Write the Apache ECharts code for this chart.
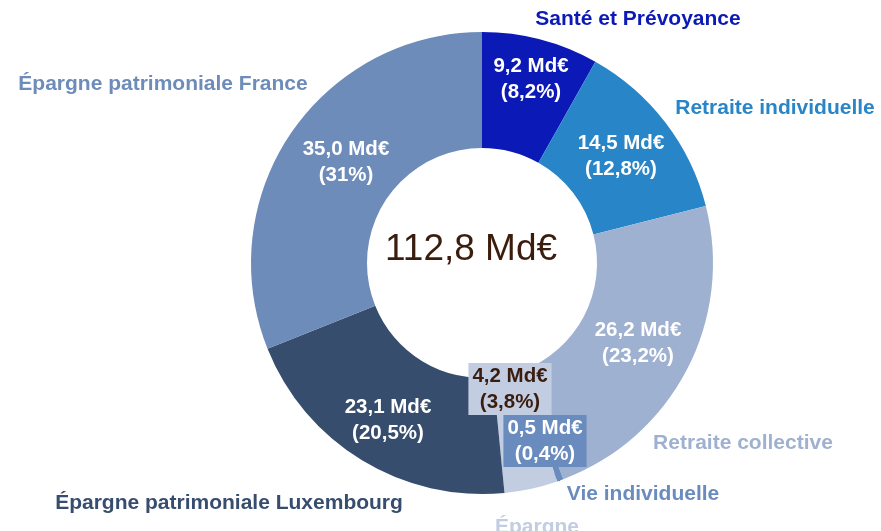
<!DOCTYPE html>
<html>
<head>
<meta charset="utf-8">
<script src="https://cdn.jsdelivr.net/npm/echarts@6/dist/echarts.min.js"></script>
<style>
  html, body { margin: 0; padding: 0; background: #fff; }
  #chart { width: 881px; height: 531px; }
</style>
</head>
<body>
<div id="chart"></div>
<script>
// données
const categories = ['Santé et Prévoyance', 'Retraite individuelle', 'Retraite collective',
  'Vie individuelle', 'Épargne', 'Épargne patrimoniale Luxembourg', 'Épargne patrimoniale France'];
const values = [9.2, 14.5, 26.2, 0.5, 4.2, 23.1, 35.0];
const shares = ['8,2%', '12,8%', '23,2%', '0,4%', '3,8%', '20,5%', '31%'];
const totalLabel = '112,8 Md€';

// style
const colors = ['#0b19b6', '#2886c8', '#9fb1d0', '#6a8bbd', '#c2cde2', '#374d6e', '#6d8cba'];
const valuePos = [[531, 79], [621, 156], [638, 343], [545, 441], [510, 389], [388, 420], [346, 162]];
const namePos = [[638, 19], [775, 108], [743, 443], [643, 494], [537, 527], [229, 503], [163, 84]];
const font = "'Liberation Sans', Arial, sans-serif";

const fmt = v => v.toFixed(1).replace('.', ',');

const chart = echarts.init(document.getElementById('chart'));

const valueData = categories.map((name, i) => {
  const item = { name: name, value: values[i], itemStyle: { color: colors[i] } };
  if (i === 4) {
    item.label = { backgroundColor: '#c2cde2', color: '#3b1d0e' };
  }
  if (i === 3) {
    item.label = { position: 'outside', backgroundColor: '#6a8bbd', color: '#fff' };
    item.labelLine = { show: true, length: 4, length2: 0, lineStyle: { color: '#6a8bbd', width: 3 } };
  }
  return item;
});

const nameData = categories.map((name, i) => ({
  name: name, value: values[i],
  label: { color: colors[i] }
}));

chart.setOption({
  animation: false,
  graphic: [{
    type: 'text', left: 385, top: 231,
    style: { text: totalLabel, font: '37px ' + font, fill: '#3b1d0e' }
  }],
  series: [{
    type: 'pie',
    center: [482, 263],
    radius: [115, 231],
    startAngle: 90,
    clockwise: true,
    silent: true,
    emphasis: { disabled: true },
    itemStyle: { borderWidth: 0 },
    label: {
      position: 'inside',
      formatter: p => fmt(p.value) + ' Md€\n(' + shares[p.dataIndex] + ')',
      color: '#fff',
      fontFamily: font,
      fontWeight: 'bold',
      fontSize: 20.5,
      lineHeight: 26,
      padding: [0, 4],
      align: 'center',
      overflow: 'none'
    },
    labelLine: { show: false },
    labelLayout: p => ({
      x: valuePos[p.dataIndex][0], y: valuePos[p.dataIndex][1],
      align: 'center', verticalAlign: 'middle'
    }),
    data: valueData
  }, {
    type: 'pie',
    center: [482, 263],
    radius: [115, 231],
    startAngle: 90,
    clockwise: true,
    silent: true,
    emphasis: { disabled: true },
    itemStyle: { color: 'rgba(0,0,0,0)' },
    label: {
      position: 'outside',
      formatter: '{b}',
      fontFamily: font,
      fontWeight: 'bold',
      fontSize: 21,
      overflow: 'none'
    },
    labelLine: { show: false },
    labelLayout: p => ({
      x: namePos[p.dataIndex][0], y: namePos[p.dataIndex][1],
      align: 'center', verticalAlign: 'middle'
    }),
    data: nameData
  }]
});
</script>
</body>
</html>
